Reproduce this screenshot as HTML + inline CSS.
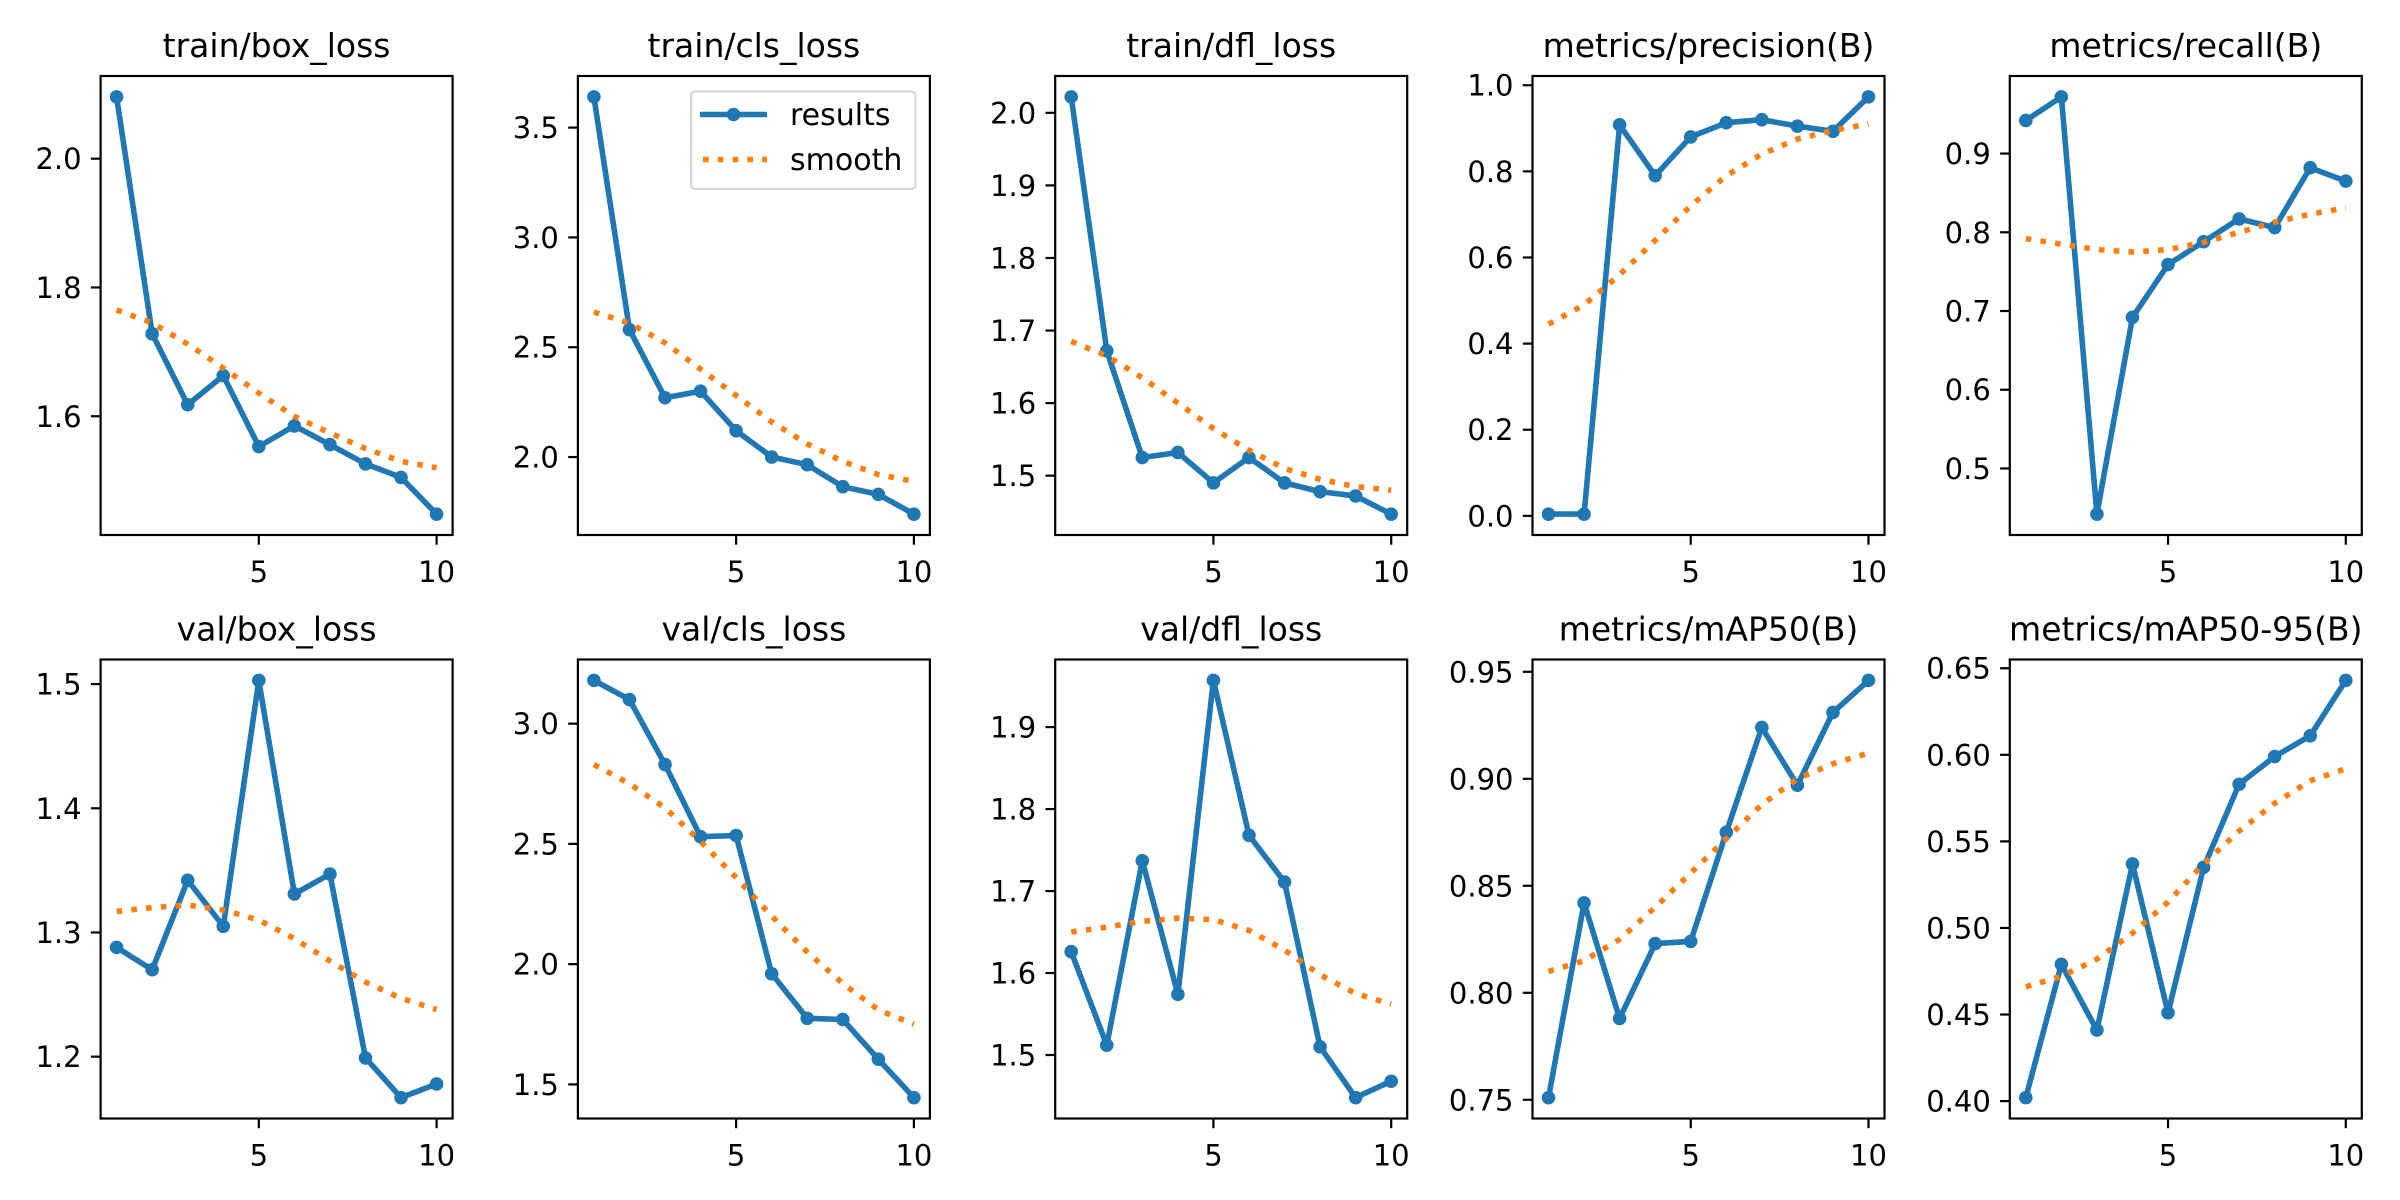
<!DOCTYPE html>
<html><head><meta charset="utf-8"><style>
html,body{margin:0;padding:0;background:#fff;}
svg{display:block;font-family:"DejaVu Sans","Liberation Sans",sans-serif;}
</style></head><body>
<svg id="fig" width="2400" height="1200" viewBox="0 0 2400 1200" xmlns="http://www.w3.org/2000/svg">
<rect width="2400" height="1200" fill="#fff"/>
</svg>
<script>
const epochs = [1,2,3,4,5,6,7,8,9,10];
const titles = ["train/box_loss","train/cls_loss","train/dfl_loss","metrics/precision(B)","metrics/recall(B)",
                "val/box_loss","val/cls_loss","val/dfl_loss","metrics/mAP50(B)","metrics/mAP50-95(B)"];
const resTrainBox = [2.096,1.728,1.618,1.663,1.553,1.585,1.556,1.526,1.505,1.448];
const smTrainBox  = [1.765,1.745,1.712,1.675,1.636,1.600,1.574,1.550,1.530,1.520];
const resTrainCls = [3.64,2.58,2.27,2.30,2.12,2.00,1.965,1.865,1.83,1.74];
const smTrainCls  = [2.66,2.61,2.52,2.40,2.28,2.16,2.06,1.98,1.92,1.89];
const resTrainDfl = [2.022,1.672,1.525,1.532,1.490,1.525,1.490,1.478,1.472,1.447];
const smTrainDfl  = [1.685,1.665,1.635,1.600,1.565,1.535,1.510,1.495,1.485,1.480];
const resPrec = [0.004,0.004,0.908,0.790,0.880,0.913,0.920,0.905,0.893,0.973];
const smPrec  = [0.445,0.490,0.560,0.640,0.720,0.790,0.840,0.875,0.895,0.910];
const resRec = [0.942,0.972,0.442,0.692,0.759,0.788,0.817,0.806,0.882,0.865];
const smRec  = [0.792,0.785,0.778,0.775,0.778,0.787,0.800,0.813,0.823,0.831];
const resValBox = [1.288,1.270,1.342,1.305,1.503,1.331,1.347,1.199,1.167,1.178];
const smValBox  = [1.317,1.320,1.322,1.318,1.310,1.295,1.277,1.260,1.247,1.238];
const resValCls = [3.18,3.10,2.83,2.53,2.535,1.96,1.775,1.77,1.605,1.445];
const smValCls  = [2.83,2.75,2.65,2.51,2.36,2.20,2.05,1.92,1.81,1.75];
const resValDfl = [1.626,1.512,1.737,1.574,1.957,1.768,1.711,1.510,1.448,1.468];
const smValDfl  = [1.650,1.656,1.663,1.667,1.665,1.652,1.628,1.598,1.575,1.562];
const resMap50 = [0.751,0.842,0.788,0.823,0.824,0.875,0.924,0.897,0.931,0.946];
const smMap50  = [0.810,0.815,0.825,0.840,0.856,0.872,0.888,0.900,0.907,0.912];
const resMap = [0.402,0.479,0.441,0.537,0.451,0.535,0.583,0.599,0.611,0.643];
const smMap  = [0.466,0.472,0.482,0.497,0.515,0.537,0.556,0.572,0.585,0.592];
const yTicks0 = ["1.6","1.8","2.0"];
const yTicks1 = ["2.0","2.5","3.0","3.5"];
const yTicks2 = ["1.5","1.6","1.7","1.8","1.9","2.0"];
const yTicks3 = ["0.0","0.2","0.4","0.6","0.8","1.0"];
const yTicks4 = ["0.5","0.6","0.7","0.8","0.9"];
const yTicks5 = ["1.2","1.3","1.4","1.5"];
const yTicks6 = ["1.5","2.0","2.5","3.0"];
const yTicks7 = ["1.5","1.6","1.7","1.8","1.9"];
const yTicks8 = ["0.75","0.80","0.85","0.90","0.95"];
const yTicks9 = ["0.40","0.45","0.50","0.55","0.60","0.65"];
const xTicks = [5,10];

const results = [resTrainBox,resTrainCls,resTrainDfl,resPrec,resRec,resValBox,resValCls,resValDfl,resMap50,resMap];
const smooths = [smTrainBox,smTrainCls,smTrainDfl,smPrec,smRec,smValBox,smValCls,smValDfl,smMap50,smMap];
const yTicks = [yTicks0,yTicks1,yTicks2,yTicks3,yTicks4,yTicks5,yTicks6,yTicks7,yTicks8,yTicks9];

const NS="http://www.w3.org/2000/svg";
const svg=document.getElementById('fig');
function mk(tag,attrs,parent){const e=document.createElementNS(NS,tag);for(const k in attrs)e.setAttribute(k,attrs[k]);(parent||svg).appendChild(e);return e;}
const W=352, H=459, lefts=[100.6,577.9,1055.2,1532.5,2009.8], tops=[76,659.5];

for(let i=0;i<10;i++){
  const L=lefts[i%5], T=tops[Math.floor(i/5)];
  const g=mk('g',{});
  
  
  const all=results[i].concat(smooths[i]);
  let mn=Math.min(...all), mx=Math.max(...all); const pad=(mx-mn)*0.05; mn-=pad; mx+=pad;
  const xmin=0.55, xmax=10.45;
  const sx=v=>L+(v-xmin)/(xmax-xmin)*W;
  const sy=v=>T+H-(v-mn)/(mx-mn)*H;
  const t=mk('text',{x:L+W/2,y:T-19,'text-anchor':'middle','font-size':33,fill:'#000'},g);
  t.textContent=titles[i];
  
  
  yTicks[i].forEach(lab=>{
    const y=sy(parseFloat(lab));
    mk('line',{x1:L-9.7,x2:L,y1:y,y2:y,stroke:'#000','stroke-width':2.2},g);
    const tx=mk('text',{x:L-19,y:y+10.5,'text-anchor':'end','font-size':29,fill:'#000'},g);
    tx.textContent=lab;
    
    
  });
  xTicks.forEach(v=>{
    const x=sx(v);
    mk('line',{x1:x,x2:x,y1:T+H,y2:T+H+9.7,stroke:'#000','stroke-width':2.2},g);
    const tx=mk('text',{x:x,y:T+H+47,'text-anchor':'middle','font-size':29,fill:'#000'},g);
    tx.textContent=String(v);
    
    
  });
  const rp=epochs.map((e,k)=>sx(e).toFixed(1)+','+sy(results[i][k]).toFixed(1)).join(' ');
  const rl=mk('polyline',{points:rp,fill:'none',stroke:'#1f77b4','stroke-width':5.6,'stroke-linejoin':'round'},g);
  
  
  epochs.forEach((e,k)=>{
    const c=mk('circle',{cx:sx(e),cy:sy(results[i][k]),r:6.8,fill:'#1f77b4'},g);
    
    
  });
  const sp=epochs.map((e,k)=>sx(e).toFixed(1)+','+sy(smooths[i][k]).toFixed(1)).join(' ');
  const sl=mk('polyline',{points:sp,fill:'none',stroke:'#ff7f0e','stroke-width':5.6,'stroke-dasharray':'5.6 9.2'},g);
  
  
  const fr=mk('rect',{x:L,y:T,width:W,height:H,fill:'none',stroke:'#000','stroke-width':2.2},g);
  
  
}
const lg=mk('g',{});


mk('rect',{x:691,y:91.5,width:224.5,height:97.5,rx:4,fill:'#fff','fill-opacity':0.8,stroke:'#d6d6d6','stroke-width':2.2},lg);
const e1=mk('g',{},lg);


mk('line',{x1:700,x2:767,y1:114.5,y2:114.5,stroke:'#1f77b4','stroke-width':5.6},e1);
mk('circle',{cx:733.5,cy:114.5,r:6.8,fill:'#1f77b4'},e1);
const t1=mk('text',{x:790,y:125,'font-size':30,fill:'#000'},e1);t1.textContent='results';
const e2=mk('g',{},lg);


mk('line',{x1:703,x2:767,y1:159.5,y2:159.5,stroke:'#ff7f0e','stroke-width':5.6,'stroke-dasharray':'5.6 9.2'},e2);
const t2=mk('text',{x:790,y:170,'font-size':30,fill:'#000'},e2);t2.textContent='smooth';
</script>
</body></html>
